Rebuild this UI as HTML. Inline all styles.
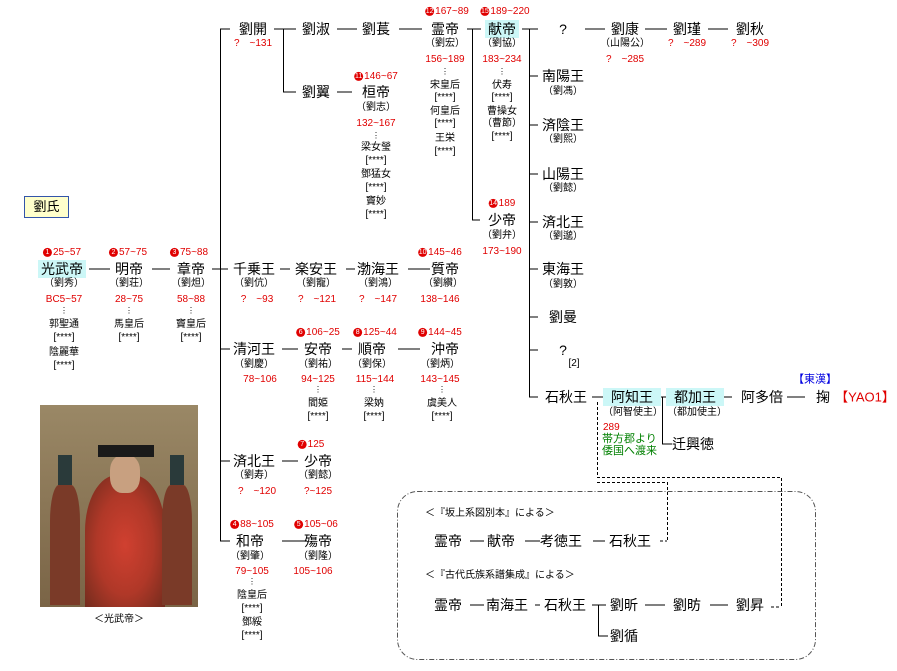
<!DOCTYPE html>
<html><head><meta charset="utf-8"><style>
body{margin:0;background:#fff;}
#c{position:relative;width:897px;height:671px;overflow:hidden;font-family:"Liberation Sans","Noto Sans CJK JP",sans-serif;color:#000;}
.t{position:absolute;transform:translate(-50%,-50%);white-space:nowrap;font-size:14px;line-height:1;}
.s{font-size:10px;}
.r{color:#e00000;font-size:10px;}
.g{color:#008000;font-size:11px;}
.hl{background:#ccf7f7;padding:2px 3px;}
.n{display:inline-block;width:9px;height:9px;border-radius:50%;background:#e00000;color:#fff;font-size:7px;line-height:9px;text-align:center;margin-right:1px;vertical-align:middle;}
svg{position:absolute;left:0;top:0;}
.v{font-size:8px;}
</style></head><body><div id="c">
<svg width="897" height="671" stroke="#000" stroke-width="1" fill="none">
<g shape-rendering="crispEdges">
<path d="M220.5 29V541M220 29H230M220 269H228M220 349H230M220 461H230M220 541H230"/>
<path d="M274 29H296M283.5 29V92M283 92H296M337 29H357M399 29H422M337 92H352"/>
<path d="M467 29H481M472.5 29V220M472 220H480M522 29H538M529.5 29V397"/>
<path d="M529 76H538M529 125H538M529 174H538M529 222H538M529 269H538M529 317H538M529 350H538M529 397H538"/>
<path d="M585 29H605M645 29H667M708 29H728"/>
<path d="M89 269H110M152 269H170M212 269H228M280 269H290M346 269H355M408 269H430"/>
<path d="M282 349H298M342 349H352M398 349H420M282 461H298M282 541H306"/>
<path d="M592 397H603M658 397H672M662.5 397V444M662 444H672M722 397H732M787 397H805"/>
<path d="M470 541H484M525 541H540M593 541H605M470 605H484M535 605H540M592 605H606M598.5 605V636M598 636H608M645 605H665M710 605H728"/>
<path stroke-dasharray="3,2" d="M597.5 402V477.5H781.5V607M771 607H781M597 482.5H667.5V541M660 541H667"/>
</g>
<rect x="397.5" y="491.5" width="418" height="168" rx="20" stroke="#555" stroke-dasharray="5,2,1,2"/>
</svg>

<div style="position:absolute;left:24px;top:196px;width:43px;height:20px;background:#ffffcc;border:1px solid #3355aa;font-size:13px;line-height:20px;text-align:center">劉氏</div>

<div class="t" style="left:253px;top:29px">劉開</div>
<div class="t r" style="left:253px;top:44px">?　~131</div>
<div class="t" style="left:316px;top:29px">劉淑</div>
<div class="t" style="left:376px;top:29px">劉萇</div>
<div class="t r" style="left:447px;top:12px"><span class="n">12</span>167~89</div>
<div class="t" style="left:445px;top:29px">霊帝</div>
<div class="t s" style="left:445px;top:44px">（劉宏）</div>
<div class="t r" style="left:445px;top:60px">156~189</div>
<div class="t v" style="left:445px;top:72px">⋮</div>
<div class="t s" style="left:445px;top:86px">宋皇后</div>
<div class="t s" style="left:445px;top:98px">[****]</div>
<div class="t s" style="left:445px;top:112px">何皇后</div>
<div class="t s" style="left:445px;top:124px">[****]</div>
<div class="t s" style="left:445px;top:139px">王栄</div>
<div class="t s" style="left:445px;top:152px">[****]</div>
<div class="t r" style="left:505px;top:12px"><span class="n">15</span>189~220</div>
<div class="t hl" style="left:502px;top:29px">献帝</div>
<div class="t s" style="left:502px;top:44px">（劉協）</div>
<div class="t r" style="left:502px;top:60px">183~234</div>
<div class="t v" style="left:502px;top:72px">⋮</div>
<div class="t s" style="left:502px;top:86px">伏寿</div>
<div class="t s" style="left:502px;top:98px">[****]</div>
<div class="t s" style="left:502px;top:112px">曹操女</div>
<div class="t s" style="left:502px;top:124px">（曹節）</div>
<div class="t s" style="left:502px;top:137px">[****]</div>
<div class="t" style="left:563px;top:29px">?</div>
<div class="t" style="left:625px;top:29px">劉康</div>
<div class="t s" style="left:625px;top:44px">（山陽公）</div>
<div class="t r" style="left:625px;top:60px">?　~285</div>
<div class="t" style="left:687px;top:29px">劉瑾</div>
<div class="t r" style="left:687px;top:44px">?　~289</div>
<div class="t" style="left:750px;top:29px">劉秋</div>
<div class="t r" style="left:750px;top:44px">?　~309</div>

<div class="t" style="left:316px;top:92px">劉翼</div>
<div class="t r" style="left:376px;top:77px"><span class="n">11</span>146~67</div>
<div class="t" style="left:376px;top:92px">桓帝</div>
<div class="t s" style="left:376px;top:108px">（劉志）</div>
<div class="t r" style="left:376px;top:124px">132~167</div>
<div class="t v" style="left:376px;top:136px">⋮</div>
<div class="t s" style="left:376px;top:148px">梁女瑩</div>
<div class="t s" style="left:376px;top:161px">[****]</div>
<div class="t s" style="left:376px;top:175px">鄧猛女</div>
<div class="t s" style="left:376px;top:188px">[****]</div>
<div class="t s" style="left:376px;top:202px">竇妙</div>
<div class="t s" style="left:376px;top:215px">[****]</div>

<div class="t r" style="left:502px;top:204px"><span class="n">14</span>189</div>
<div class="t" style="left:502px;top:220px">少帝</div>
<div class="t s" style="left:502px;top:236px">（劉弁）</div>
<div class="t r" style="left:502px;top:252px">173~190</div>

<div class="t" style="left:563px;top:76px">南陽王</div><div class="t s" style="left:563px;top:92px">（劉馮）</div>
<div class="t" style="left:563px;top:125px">済陰王</div><div class="t s" style="left:563px;top:140px">（劉熙）</div>
<div class="t" style="left:563px;top:174px">山陽王</div><div class="t s" style="left:563px;top:189px">（劉懿）</div>
<div class="t" style="left:563px;top:222px">済北王</div><div class="t s" style="left:563px;top:237px">（劉邈）</div>
<div class="t" style="left:563px;top:269px">東海王</div><div class="t s" style="left:563px;top:285px">（劉敦）</div>
<div class="t" style="left:563px;top:317px">劉曼</div>
<div class="t" style="left:563px;top:350px">?</div><div class="t s" style="left:574px;top:364px">[2]</div>
<div class="t" style="left:566px;top:397px">石秋王</div>

<div class="t hl" style="left:632px;top:397px;padding:2px 8px">阿知王</div>
<div class="t s" style="left:633px;top:413px">（阿智使主）</div>
<div class="r" style="position:absolute;left:603px;top:422px">289</div>
<div class="g" style="position:absolute;left:602px;top:433px;line-height:12px">帯方郡より<br>倭国へ渡来</div>
<div class="t hl" style="left:695px;top:397px;padding:2px 8px">都加王</div>
<div class="t s" style="left:697px;top:413px">（都加使主）</div>
<div class="t" style="left:693px;top:444px">迁興徳</div>
<div class="t" style="left:762px;top:397px">阿多倍</div>
<div class="t" style="left:823px;top:397px">掬</div>
<div class="t" style="left:815px;top:380px;color:#0000e0;font-size:11px">【東漢】</div>
<div class="t" style="left:865px;top:397px;color:#e00000;font-size:13px">【YAO1】</div>

<div class="t r" style="left:62px;top:253px"><span class="n">1</span>25~57</div>
<div class="t hl" style="left:62px;top:269px">光武帝</div>
<div class="t s" style="left:64px;top:284px">（劉秀）</div>
<div class="t r" style="left:64px;top:300px">BC5~57</div>
<div class="t v" style="left:64px;top:311px">⋮</div>
<div class="t s" style="left:64px;top:325px">郭聖通</div>
<div class="t s" style="left:64px;top:338px">[****]</div>
<div class="t s" style="left:64px;top:353px">陰麗華</div>
<div class="t s" style="left:64px;top:366px">[****]</div>
<div class="t r" style="left:128px;top:253px"><span class="n">2</span>57~75</div>
<div class="t" style="left:129px;top:269px">明帝</div>
<div class="t s" style="left:129px;top:284px">（劉荘）</div>
<div class="t r" style="left:129px;top:300px">28~75</div>
<div class="t v" style="left:129px;top:311px">⋮</div>
<div class="t s" style="left:129px;top:325px">馬皇后</div>
<div class="t s" style="left:129px;top:338px">[****]</div>
<div class="t r" style="left:189px;top:253px"><span class="n">3</span>75~88</div>
<div class="t" style="left:191px;top:269px">章帝</div>
<div class="t s" style="left:191px;top:284px">（劉炟）</div>
<div class="t r" style="left:191px;top:300px">58~88</div>
<div class="t v" style="left:191px;top:311px">⋮</div>
<div class="t s" style="left:191px;top:325px">竇皇后</div>
<div class="t s" style="left:191px;top:338px">[****]</div>

<div class="t" style="left:254px;top:269px">千乗王</div><div class="t s" style="left:254px;top:284px">（劉伉）</div><div class="t r" style="left:257px;top:300px">?　~93</div>
<div class="t" style="left:316px;top:269px">楽安王</div><div class="t s" style="left:316px;top:284px">（劉寵）</div><div class="t r" style="left:317px;top:300px">?　~121</div>
<div class="t" style="left:378px;top:269px">渤海王</div><div class="t s" style="left:378px;top:284px">（劉鴻）</div><div class="t r" style="left:378px;top:300px">?　~147</div>
<div class="t r" style="left:440px;top:253px"><span class="n">10</span>145~46</div>
<div class="t" style="left:445px;top:269px">質帝</div><div class="t s" style="left:443px;top:284px">（劉纘）</div><div class="t r" style="left:440px;top:300px">138~146</div>

<div class="t" style="left:254px;top:349px">清河王</div><div class="t s" style="left:254px;top:365px">（劉慶）</div><div class="t r" style="left:260px;top:380px">78~106</div>
<div class="t r" style="left:318px;top:333px"><span class="n">6</span>106~25</div>
<div class="t" style="left:318px;top:349px">安帝</div><div class="t s" style="left:318px;top:365px">（劉祐）</div><div class="t r" style="left:318px;top:380px">94~125</div>
<div class="t v" style="left:318px;top:390px">⋮</div><div class="t s" style="left:318px;top:404px">閻姫</div><div class="t s" style="left:318px;top:417px">[****]</div>
<div class="t r" style="left:375px;top:333px"><span class="n">8</span>125~44</div>
<div class="t" style="left:372px;top:349px">順帝</div><div class="t s" style="left:372px;top:365px">（劉保）</div><div class="t r" style="left:375px;top:380px">115~144</div>
<div class="t v" style="left:374px;top:390px">⋮</div><div class="t s" style="left:374px;top:404px">梁妠</div><div class="t s" style="left:374px;top:417px">[****]</div>
<div class="t r" style="left:440px;top:333px"><span class="n">9</span>144~45</div>
<div class="t" style="left:445px;top:349px">沖帝</div><div class="t s" style="left:440px;top:365px">（劉炳）</div><div class="t r" style="left:440px;top:380px">143~145</div>
<div class="t v" style="left:442px;top:390px">⋮</div><div class="t s" style="left:442px;top:404px">虞美人</div><div class="t s" style="left:442px;top:417px">[****]</div>

<div class="t r" style="left:311px;top:445px"><span class="n">7</span>125</div>
<div class="t" style="left:254px;top:461px">済北王</div><div class="t s" style="left:254px;top:476px">（劉寿）</div><div class="t r" style="left:257px;top:492px">?　~120</div>
<div class="t" style="left:318px;top:461px">少帝</div><div class="t s" style="left:318px;top:476px">（劉懿）</div><div class="t r" style="left:318px;top:492px">?~125</div>

<div class="t r" style="left:252px;top:525px"><span class="n">4</span>88~105</div>
<div class="t" style="left:250px;top:541px">和帝</div><div class="t s" style="left:250px;top:557px">（劉肇）</div><div class="t r" style="left:252px;top:572px">79~105</div>
<div class="t v" style="left:252px;top:582px">⋮</div><div class="t s" style="left:252px;top:596px">陰皇后</div><div class="t s" style="left:252px;top:609px">[****]</div><div class="t s" style="left:252px;top:623px">鄧綏</div><div class="t s" style="left:252px;top:636px">[****]</div>
<div class="t r" style="left:316px;top:525px"><span class="n">5</span>105~06</div>
<div class="t" style="left:318px;top:541px">殤帝</div><div class="t s" style="left:318px;top:557px">（劉隆）</div><div class="t r" style="left:313px;top:572px">105~106</div>

<div style="position:absolute;left:40px;top:405px;width:158px;height:202px;background:linear-gradient(180deg,#9a8866 0%,#8a7656 50%,#7a6446 100%);overflow:hidden">
  <div style="position:absolute;left:45px;top:70px;width:80px;height:140px;border-radius:40% 40% 0 0;background:radial-gradient(ellipse at 50% 50%,#d04030 0%,#b03828 50%,#6a2a1c 100%)"></div>
  <div style="position:absolute;left:70px;top:50px;width:30px;height:38px;border-radius:40%;background:#c8a080"></div>
  <div style="position:absolute;left:58px;top:40px;width:56px;height:12px;background:#1a1a1a"></div>
  <div style="position:absolute;left:10px;top:80px;width:30px;height:120px;border-radius:30% 30% 0 0;background:#7a3a28"></div>
  <div style="position:absolute;left:122px;top:80px;width:30px;height:120px;border-radius:30% 30% 0 0;background:#7a3a28"></div>
  <div style="position:absolute;left:18px;top:50px;width:14px;height:30px;background:#2a3a3a"></div>
  <div style="position:absolute;left:130px;top:50px;width:14px;height:30px;background:#2a3a3a"></div>
</div>
<div class="t s" style="left:119px;top:620px">＜光武帝＞</div>

<div class="s" style="position:absolute;left:425px;top:504px">＜『坂上系図別本』による＞</div>
<div class="t" style="left:448px;top:541px">霊帝</div>
<div class="t" style="left:501px;top:541px">献帝</div>
<div class="t" style="left:561px;top:541px">考徳王</div>
<div class="t" style="left:630px;top:541px">石秋王</div>
<div class="s" style="position:absolute;left:425px;top:566px">＜『古代氏族系譜集成』による＞</div>
<div class="t" style="left:448px;top:605px">霊帝</div>
<div class="t" style="left:507px;top:605px">南海王</div>
<div class="t" style="left:565px;top:605px">石秋王</div>
<div class="t" style="left:624px;top:605px">劉昕</div>
<div class="t" style="left:687px;top:605px">劉昉</div>
<div class="t" style="left:750px;top:605px">劉昇</div>
<div class="t" style="left:624px;top:636px">劉循</div>
</div></body></html>
